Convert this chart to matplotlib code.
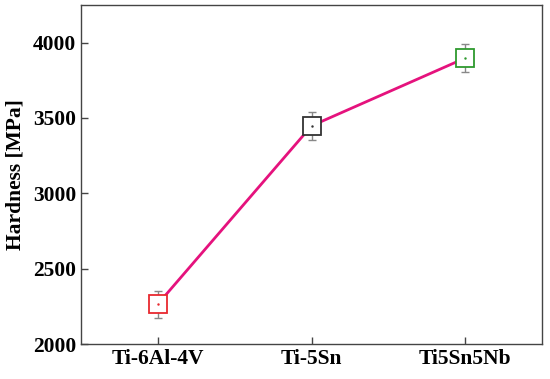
import matplotlib.pyplot as plt
import numpy as np

plt.rcParams['font.family'] = ['Liberation Serif', 'DejaVu Serif']
plt.rcParams['font.weight'] = 'bold'

alloys = ['Ti-6Al-4V', 'Ti-5Sn', 'Ti5Sn5Nb']
hardness = [2265, 3448, 3898]
hardness_err = [90, 93, 95]
edge_colors = ['#e8292f', '#333333', '#2e9a2e']

fig = plt.figure(figsize=(5.5, 3.79), dpi=100)
ax = fig.add_axes([0.147, 0.092, 0.839, 0.895])

x = np.arange(len(alloys))
ax.plot(x, hardness, color='#e5127d', lw=2, zorder=1)
ax.errorbar(x, hardness, yerr=hardness_err, fmt='none', ecolor='#888888',
            elinewidth=1, capsize=3.2, capthick=1, zorder=2)
for xi, yi, c in zip(x, hardness, edge_colors):
    ax.plot(xi, yi, marker='s', ms=13.5, mfc='white', mec=c, mew=1.3, zorder=3)
    ax.plot(xi, yi, marker='.', ms=1.5, color=c, zorder=4)

ax.set_xlim(-0.5, 2.5)
ax.set_ylim(2000, 4250)
ax.set_yticks([2000, 2500, 3000, 3500, 4000])
ax.set_xticks(x)
ax.set_xticklabels(alloys)
ax.tick_params(direction='in', labelsize=15.5, length=5, width=1, color='#444444')
ax.set_ylabel('Hardness [MPa]', fontsize=15.5, fontweight='bold', labelpad=5)
for s in ax.spines.values():
    s.set_color('#444444')
    s.set_linewidth(1)

plt.savefig('out.png', dpi=100)
